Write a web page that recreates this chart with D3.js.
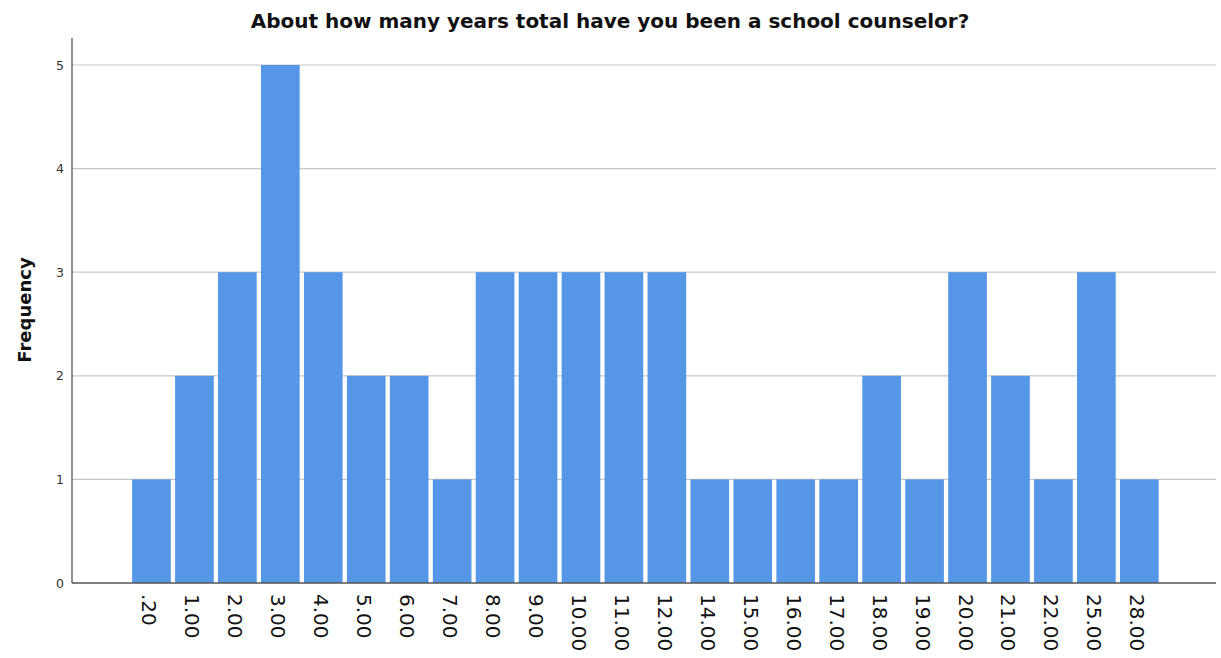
<!DOCTYPE html>
<html>
<head>
<meta charset="utf-8">
<script src="https://cdn.jsdelivr.net/npm/d3@7"></script>
<style>
  body { margin: 0; background: #fff; }
  svg { display: block; font-family: "DejaVu Sans", sans-serif; }
</style>
</head>
<body>
<svg id="chart" width="1221" height="658"></svg>
<script>
// years as a school counselor (category labels) and how many answered each
var years = [".20", "1.00", "2.00", "3.00", "4.00", "5.00", "6.00", "7.00", "8.00", "9.00",
             "10.00", "11.00", "12.00", "14.00", "15.00", "16.00", "17.00", "18.00", "19.00",
             "20.00", "21.00", "22.00", "25.00", "28.00"];
var counts = [1, 2, 3, 5, 3, 2, 2, 1, 3, 3, 3, 3, 3, 1, 1, 1, 1, 2, 1, 3, 2, 1, 3, 1];
var yTicks = [0, 1, 2, 3, 4, 5];

var data = years.map(function(y, i) { return { year: y, count: counts[i] }; });

var svg = d3.select("#chart");

// plot edges (don't use "top", it's window.top)
var plotLeft = 72, plotRight = 1216, plotTop = 38, plotBottom = 583;

var x = d3.scaleBand()
    .domain(years)
    .range([130, 130 + years.length * 42.95])
    .paddingInner(0.1)
    .paddingOuter(0.05);

var y = d3.scaleLinear()
    .domain([0, 5])
    .range([plotBottom, 65]);

// gridlines
svg.append("g")
    .selectAll("line")
    .data(yTicks.slice(1))
    .enter()
    .append("line")
    .attr("x1", plotLeft)
    .attr("x2", plotRight)
    .attr("y1", function(d) { return y(d); })
    .attr("y2", function(d) { return y(d); })
    .attr("stroke", "#c6c6c6")
    .attr("stroke-width", 1.2);

// bars
svg.append("g")
    .selectAll("rect")
    .data(data)
    .enter()
    .append("rect")
    .attr("x", function(d) { return x(d.year); })
    .attr("y", function(d) { return y(d.count); })
    .attr("width", x.bandwidth())
    .attr("height", function(d) { return plotBottom - y(d.count); })
    .attr("fill", "#5596e6");

// y axis labels
var yAxis = svg.append("g")
    .attr("transform", "translate(" + plotLeft + ",0)")
    .call(d3.axisLeft(y).tickValues(yTicks).tickFormat(d3.format("d")).tickSize(0).tickPadding(8));
yAxis.select(".domain").remove();
yAxis.selectAll("text").attr("font-size", 12.5).attr("fill", "#333").attr("font-family", "DejaVu Sans");

// y axis line
svg.append("line")
    .attr("x1", plotLeft)
    .attr("x2", plotLeft)
    .attr("y1", plotTop)
    .attr("y2", plotBottom)
    .attr("stroke", "#555")
    .attr("stroke-width", 1.3);

// x axis baseline
svg.append("line")
    .attr("x1", plotLeft)
    .attr("x2", plotRight)
    .attr("y1", plotBottom)
    .attr("y2", plotBottom)
    .attr("stroke", "#555")
    .attr("stroke-width", 1.3);

// x labels, rotated to read downward
svg.append("g")
    .selectAll("text")
    .data(years)
    .enter()
    .append("text")
    .attr("transform", function(d) {
        return "translate(" + (x(d) + x.bandwidth() / 2 - 2) + "," + (plotBottom + 11) + ") rotate(90)";
    })
    .attr("dy", "0.35em")
    .attr("font-size", 20)
    .attr("fill", "#111")
    .text(function(d) { return d; });

// title
svg.append("text")
    .attr("x", 610)
    .attr("y", 28)
    .attr("text-anchor", "middle")
    .attr("font-size", 20)
    .attr("font-weight", "bold")
    .attr("fill", "#111")
    .text("About how many years total have you been a school counselor?");

// y axis title
svg.append("text")
    .attr("transform", "translate(31,310) rotate(-90)")
    .attr("text-anchor", "middle")
    .attr("font-size", 18)
    .attr("font-weight", "bold")
    .attr("fill", "#111")
    .text("Frequency");
</script>
</body>
</html>
